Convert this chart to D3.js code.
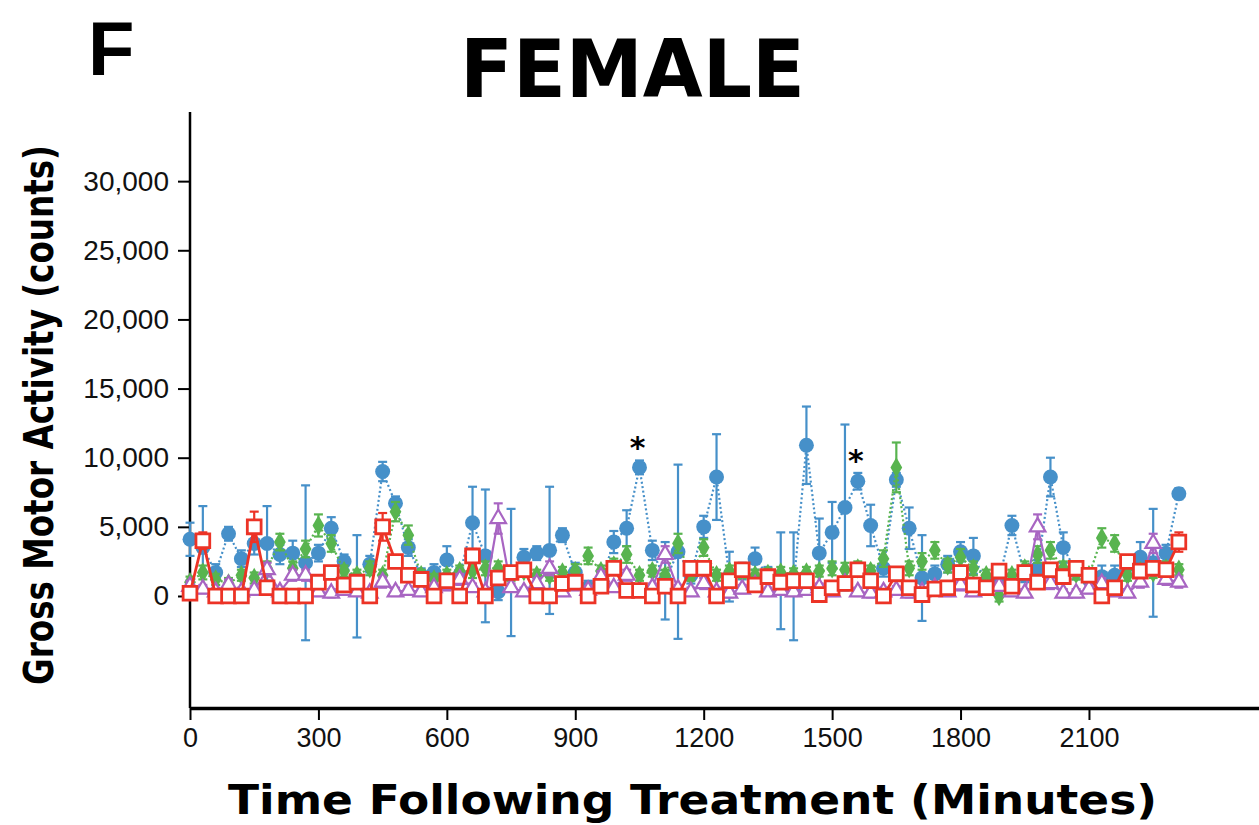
<!DOCTYPE HTML>
<html lang="en">
<head>
    <meta charset="utf-8">
    <title>FEMALE</title>
    <script src="https://d3js.org/d3.v7.min.js"></script>
    <style>
      html, body { margin: 0; padding: 0; background: #fff; }
      #chart-container { width: 1259px; height: 825px; }
    </style>
</head>
<body>
    <div id="chart-container"></div>
</body>
<script>
// time bins (minutes)
const times = [0,30,60,90,120,150,180,210,240,270,300,330,360,390,420,450,480,510,540,570,
  600,630,660,690,720,750,780,810,840,870,900,930,960,990,1020,1050,1080,1110,1140,1170,
  1200,1230,1260,1290,1320,1350,1380,1410,1440,1470,1500,1530,1560,1590,1620,1650,1680,1710,1740,1770,
  1800,1830,1860,1890,1920,1950,1980,2010,2040,2070,2100,2130,2160,2190,2220,2250,2280,2310];

// blue circles
const blueMean = [4100,3500,1700,4500,2700,3800,3800,3000,3100,2400,3100,4900,2500,700,2300,9000,6700,3500,1500,1700,
  2600,1500,5300,2900,300,1700,2800,3100,3300,4400,1700,600,1000,3900,4900,9300,3300,1100,3200,1500,
  5000,8600,1400,1800,2700,1500,1100,700,10900,3100,4600,6400,8300,5100,2000,8400,4900,1300,1600,2300,
  3200,2900,1000,1200,5100,1500,2000,8600,3500,1800,1200,1400,1500,2200,2800,2400,3100,7400];
const blueErr = [1200,3000,600,500,600,800,2700,700,900,5600,600,800,500,3700,600,700,500,600,500,600,
  1000,500,2600,4800,600,4600,600,500,4600,500,700,500,600,800,1300,500,700,2800,6300,600,
  800,3100,1800,600,800,600,3500,3900,2800,2500,2200,6000,600,1500,600,500,1500,3100,600,600,
  700,1300,500,600,700,500,600,1400,1100,600,600,800,700,600,1100,3900,600,400];

// green diamonds
const greenMean = [1000,1700,1200,900,1500,1300,2000,3900,2000,3400,5100,3800,1800,1500,2000,1500,6100,4400,1500,1200,
  1500,1800,1800,2000,2000,1500,1800,1500,1500,1700,1800,2900,1800,2200,3000,1500,1800,1500,3800,1500,
  3500,1500,1800,1700,1500,1600,1700,1600,1700,1800,2000,1900,2000,1800,2700,9300,2000,2500,3300,2200,
  2800,2000,1500,0,1500,2000,3000,3300,2000,1600,1500,4200,3800,1500,1800,1700,2000,1900];
const greenErr = [400,500,400,400,400,400,500,600,500,600,800,600,400,400,500,400,700,700,400,400,
  400,400,500,500,500,400,400,400,400,400,500,600,400,500,600,400,400,400,700,400,
  600,400,400,400,400,400,400,400,400,400,500,500,500,400,600,1800,500,600,600,500,
  600,500,400,400,400,500,600,600,500,400,400,700,600,400,400,400,500,400];

// purple triangles
const purpleMean = [700,500,300,800,300,400,1900,300,1500,1500,300,200,400,300,200,1000,300,400,300,600,
  800,1200,600,300,5600,600,300,900,2000,300,800,400,1400,600,1500,300,600,3000,500,300,
  900,300,200,500,800,300,400,300,400,600,300,900,300,200,300,400,200,300,600,300,
  800,300,400,700,300,200,5000,900,200,200,500,900,300,200,1000,3800,1200,1000];
const purpleErr = [400,300,300,400,300,300,500,300,400,400,300,300,300,300,300,400,300,300,300,300,
  400,400,300,300,1100,300,300,400,500,300,400,300,400,300,400,300,300,600,300,300,
  400,300,300,300,400,300,300,300,300,300,300,400,300,300,300,300,300,300,300,300,
  400,300,300,300,300,300,900,400,300,300,300,400,300,300,400,700,400,400];

// red open squares
const redMean = [200,4000,0,0,0,5000,600,0,0,0,1000,1700,800,1000,0,5000,2500,1500,1200,0,
  1100,0,2900,0,1300,1700,1900,0,0,900,1000,0,700,2000,400,400,0,700,0,2000,
  2000,0,1100,1900,800,1400,1000,1100,1100,100,600,900,1900,1100,0,1600,600,100,500,600,
  1700,800,600,1800,700,1700,1000,1900,1400,2000,1500,0,600,2500,1800,2000,1900,3900];
const redErr = [200,600,100,100,100,1100,300,100,100,100,300,300,300,300,100,1000,400,300,300,100,
  300,100,500,100,300,300,300,100,100,300,300,100,300,400,200,200,100,300,100,400,
  400,100,300,300,300,300,300,300,300,100,300,300,400,300,100,300,300,100,200,300,
  400,300,300,400,300,300,300,400,300,400,300,100,300,400,300,300,300,700];

// asterisks: indices of significant time bins
const starIdx = [35, 52];

const yTicks = [0, 5000, 10000, 15000, 20000, 25000, 30000];
const xTicks = [0, 300, 600, 900, 1200, 1500, 1800, 2100];

function main() {
  const width = 1259;
  const height = 825;

  const x = d3.scaleLinear().domain([0, 2500]).range([190, 1260.2]);
  const y = d3.scaleLinear().domain([-8100, 35000]).range([708, 112]);

  const svg = d3.select(`#chart-container`)
    .append(`svg`)
    .attr(`width`, width)
    .attr(`height`, height)
    .attr(`viewBox`, `0 0 ${width} ${height}`);

  // panel letter + title
  svg.append(`text`)
    .attr(`x`, 88).attr(`y`, 75)
    .attr(`font-family`, `Liberation Sans, Arial, sans-serif`)
    .attr(`font-weight`, `bold`)
    .attr(`font-size`, 76)
    .text(`F`);

  svg.append(`text`)
    .attr(`x`, 460).attr(`y`, 97)
    .attr(`font-family`, `DejaVu Sans, Verdana, sans-serif`)
    .attr(`font-weight`, `bold`)
    .attr(`font-size`, 80)
    .attr(`textLength`, 345)
    .attr(`lengthAdjust`, `spacingAndGlyphs`)
    .text(`FEMALE`);

  // axes
  const yAxis = svg.append(`g`)
    .attr(`transform`, `translate(190,0)`)
    .call(d3.axisLeft(y).tickValues(yTicks).tickSize(12).tickPadding(9)
      .tickFormat(d3.format(`,`)).tickSizeOuter(0));
  yAxis.select(`.domain`).attr(`stroke-width`, 2.5).attr(`d`, `M0,112V708`);
  yAxis.selectAll(`.tick line`).attr(`stroke-width`, 2);
  yAxis.selectAll(`.tick text`)
    .attr(`font-family`, `Liberation Sans, Arial, sans-serif`)
    .attr(`font-size`, 28)
    .attr(`fill`, `#111`);

  const xAxis = svg.append(`g`)
    .attr(`transform`, `translate(0,708)`)
    .call(d3.axisBottom(x).tickValues(xTicks).tickSize(12).tickPadding(8)
      .tickFormat(d3.format(`d`)).tickSizeOuter(0));
  xAxis.select(`.domain`).attr(`stroke-width`, 3.5);
  xAxis.selectAll(`.tick line`).attr(`stroke-width`, 2);
  xAxis.selectAll(`.tick text`)
    .attr(`font-family`, `Liberation Sans, Arial, sans-serif`)
    .attr(`font-size`, 27)
    .attr(`fill`, `#111`);

  // axis titles
  svg.append(`text`)
    .attr(`transform`, `translate(53,685) rotate(-90)`)
    .attr(`font-family`, `DejaVu Sans, Verdana, sans-serif`)
    .attr(`font-weight`, `bold`)
    .attr(`font-size`, 40)
    .attr(`textLength`, 540)
    .attr(`lengthAdjust`, `spacingAndGlyphs`)
    .text(`Gross Motor Activity (counts)`);

  svg.append(`text`)
    .attr(`x`, 228).attr(`y`, 814)
    .attr(`font-family`, `DejaVu Sans, Verdana, sans-serif`)
    .attr(`font-weight`, `bold`)
    .attr(`font-size`, 40)
    .attr(`textLength`, 929)
    .attr(`lengthAdjust`, `spacingAndGlyphs`)
    .text(`Time Following Treatment (Minutes)`);

  // series definitions (drawn bottom to top)
  const series = [
    { mean: blueMean, err: blueErr, color: `#4690c9`, symbol: d3.symbolCircle, size: 175, fill: true, dash: `2,2.5`, lw: 2.2 },
    { mean: greenMean, err: greenErr, color: `#58b44f`, symbol: d3.symbolDiamond, size: 120, fill: true, dash: `2,2.5`, lw: 2.2 },
    { mean: purpleMean, err: purpleErr, color: `#a865c2`, symbol: d3.symbolTriangle, size: 105, fill: false, dash: null, lw: 2.2 },
    { mean: redMean, err: redErr, color: `#ec3326`, symbol: d3.symbolSquare, size: 190, fill: false, dash: null, lw: 2.8 }
  ];

  const line = d3.line().x((d, i) => x(times[i])).y(d => y(d));

  series.forEach(s => {
    const g = svg.append(`g`);

    // connecting line
    g.append(`path`)
      .datum(s.mean)
      .attr(`d`, line)
      .attr(`fill`, `none`)
      .attr(`stroke`, s.color)
      .attr(`stroke-width`, s.lw)
      .attr(`stroke-dasharray`, s.dash);

    // error bars
    const eb = g.selectAll(`g.err`)
      .data(s.mean)
      .enter()
      .append(`g`)
      .attr(`stroke`, s.color)
      .attr(`stroke-width`, 2.2);
    eb.append(`line`)
      .attr(`x1`, (d, i) => x(times[i])).attr(`x2`, (d, i) => x(times[i]))
      .attr(`y1`, (d, i) => y(d - s.err[i])).attr(`y2`, (d, i) => y(d + s.err[i]));
    eb.append(`line`)
      .attr(`x1`, (d, i) => x(times[i]) - 4.5).attr(`x2`, (d, i) => x(times[i]) + 4.5)
      .attr(`y1`, (d, i) => y(d + s.err[i])).attr(`y2`, (d, i) => y(d + s.err[i]));
    eb.append(`line`)
      .attr(`x1`, (d, i) => x(times[i]) - 4.5).attr(`x2`, (d, i) => x(times[i]) + 4.5)
      .attr(`y1`, (d, i) => y(d - s.err[i])).attr(`y2`, (d, i) => y(d - s.err[i]));

    // markers
    g.selectAll(`path.mark`)
      .data(s.mean)
      .enter()
      .append(`path`)
      .attr(`d`, d3.symbol().type(s.symbol).size(s.size))
      .attr(`transform`, (d, i) => `translate(${x(times[i])},${y(d)})`)
      .attr(`fill`, s.fill ? s.color : `#fff`)
      .attr(`stroke`, s.fill ? `none` : s.color)
      .attr(`stroke-width`, s.symbol === d3.symbolSquare ? 2.8 : 2.2);
  });

  // significance stars
  svg.selectAll(`text.star`)
    .data(starIdx)
    .enter()
    .append(`text`)
    .attr(`x`, i => x(times[i]) - 2)
    .attr(`y`, i => y(blueMean[i] + blueErr[i]) - 2)
    .attr(`text-anchor`, `middle`)
    .attr(`font-family`, `DejaVu Sans, sans-serif`)
    .attr(`font-weight`, `bold`)
    .attr(`font-size`, 30)
    .text(`*`);
}

main();
</script>
</html>
